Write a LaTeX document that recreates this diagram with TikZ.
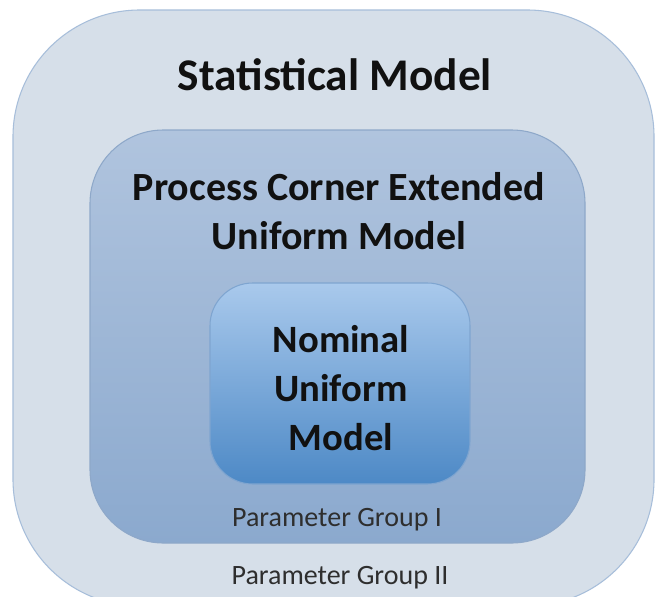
\documentclass[tikz,border=0pt]{standalone}
\usepackage{fontspec}
\setmainfont{Carlito}
\definecolor{outerfill}{HTML}{D6DFE9}
\definecolor{outerline}{HTML}{A7BEDA}
\definecolor{midtop}{HTML}{B0C4DE}
\definecolor{midbot}{HTML}{8BA9CE}
\definecolor{midline}{HTML}{8EA8C9}
\definecolor{intop}{HTML}{A9C9EC}
\definecolor{inbot}{HTML}{4D89C6}
\definecolor{inline}{HTML}{7FA5D0}
\definecolor{textcol}{HTML}{111111}
\definecolor{captcol}{HTML}{2E2E2E}
\tikzset{
  layerbox/.style={rounded corners=#1, line width=0.8pt},
  title/.style={font=\bfseries\fontsize{34}{38}\selectfont, text=textcol, align=center},
  heading/.style={font=\bfseries\fontsize{30}{37}\selectfont, text=textcol, align=center},
  nomheading/.style={font=\bfseries\fontsize{29}{36.5}\selectfont, text=textcol, align=center},
  caption/.style={font=\fontsize{21}{24}\selectfont, text=captcol, align=center},
}
\begin{document}
\begin{tikzpicture}[x=0.75pt, y=-0.75pt]
  \useasboundingbox (0,0) rectangle (659,596);
  \fill[white] (0,0) rectangle (659,596);
  \clip (0,0) rectangle (659,596);
  % outer layer: statistical model
  \draw[layerbox=95, fill=outerfill, draw=outerline] (13,10) rectangle (654,606);
  % middle layer: process corner extended model
  \shade[layerbox=55, top color=midtop, bottom color=midbot, draw=midline] (90,130) rectangle (585,543);
  % inner layer: nominal model
  \shade[layerbox=32, top color=intop, bottom color=inbot, draw=inline] (210,283) rectangle (470,484);
  \node[title] (stat) at (335,75) {Statistical Model};
  \node[heading] (pce) at (339,211) {Process Corner Extended\\Uniform Model};
  \node[nomheading] (nom) at (341,388) {Nominal\\Uniform\\Model};
  \node[caption] (pg1) at (337,520) {Parameter Group I};
  \node[caption] (pg2) at (340,578) {Parameter Group II};
\end{tikzpicture}
\end{document}
